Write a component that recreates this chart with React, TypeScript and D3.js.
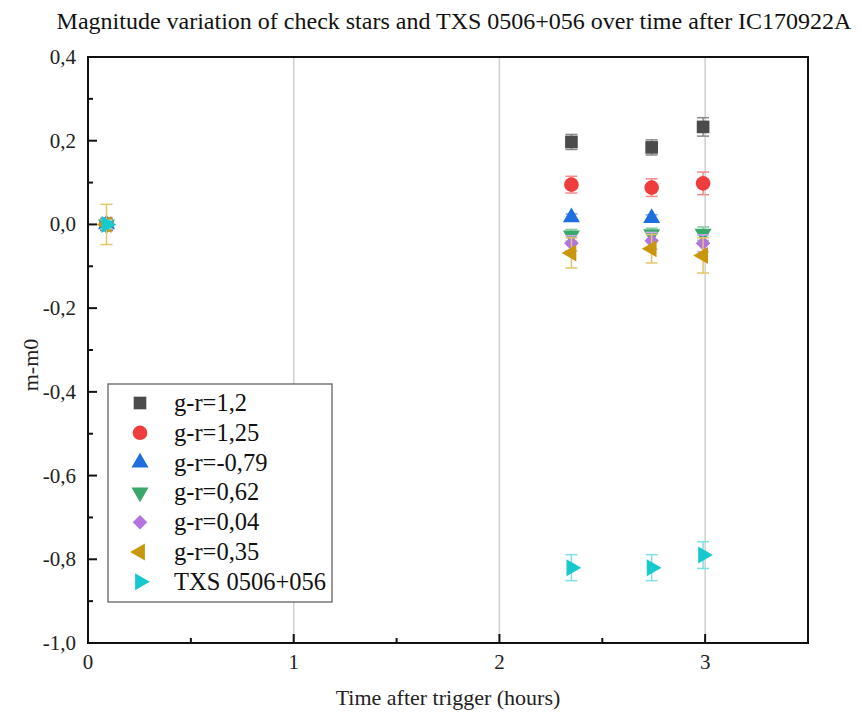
import React from 'react';
import * as d3 from 'd3';

const title = 'Magnitude variation of check stars and TXS 0506+056 over time after IC170922A';
const xLabel = 'Time after trigger (hours)';
const yLabel = 'm-m0';

const xTicks = [0, 1, 2, 3];
const xMinor = [0.5, 1.5, 2.5];
const yTicks = [0.4, 0.2, 0, -0.2, -0.4, -0.6, -0.8, -1.0];
const yMinor = [0.3, 0.1, -0.1, -0.3, -0.5, -0.7, -0.9];
const gridX = [1, 2, 3];

const names = ['g-r=1,2', 'g-r=1,25', 'g-r=-0,79', 'g-r=0,62', 'g-r=0,04', 'g-r=0,35', 'TXS 0506+056'];
const colors = ['#4b4b4b', '#ef3d3d', '#1e6ee0', '#39a86a', '#b275df', '#c9960c', '#17c9cf'];
const errColors = ['#8a8a8a', '#f58a8a', '#7aa8ee', '#86cda3', '#cfa8ee', '#e4c46a', '#7fe0e4'];
const shapes = ['square', 'circle', 'up', 'down', 'diamond', 'left', 'right'];

const times = [0.09, 2.35, 2.74, 2.99];
const timesBlue = [0.09, 2.35, 2.74];

const magSq = [0, 0.197, 0.184, 0.233];
const errSq = [0.015, 0.018, 0.018, 0.022];
const magCirc = [0, 0.095, 0.088, 0.098];
const errCirc = [0.012, 0.02, 0.021, 0.027];
const magUp = [0, 0.017, 0.015];
const errUp = [0.01, 0.008, 0.008];
const magDown = [0, -0.026, -0.023, -0.022];
const errDown = [0.01, 0.014, 0.014, 0.016];
const magDia = [0, -0.045, -0.039, -0.045];
const errDia = [0.012, 0.018, 0.02, 0.02];
const magLeft = [0, -0.068, -0.058, -0.074];
const errLeft = [0.048, 0.036, 0.034, 0.042];
const magTxs = [0, -0.82, -0.82, -0.79];
const errTxs = [0.01, 0.031, 0.031, 0.032];

const seriesT = [times, times, timesBlue, times, times, times, times];
const seriesM = [magSq, magCirc, magUp, magDown, magDia, magLeft, magTxs];
const seriesE = [errSq, errCirc, errUp, errDown, errDia, errLeft, errTxs];

const W = 859, H = 712;
const L = 88, R = 808, T = 57, B = 643;
const font = '"Liberation Serif", "Times New Roman", serif';

const x = d3.scaleLinear().domain([0, 3.5]).range([L, R]);
const y = d3.scaleLinear().domain([-1.0, 0.4]).range([B, T]);

const fmt = (v: number) => (v === 0 ? '0,0' : d3.format('.1f')(v).replace('.', ',').replace('−', '-'));

function marker(shape: string, cx: number, cy: number, color: string, key?: string) {
  const tri = d3.symbol().type(d3.symbolTriangle).size(125)() as string;
  switch (shape) {
    case 'square':
      return <path key={key} d={d3.symbol().type(d3.symbolSquare).size(160)() as string} transform={`translate(${cx},${cy})`} fill={color} />;
    case 'circle':
      return <circle key={key} cx={cx} cy={cy} r={7.3} fill={color} />;
    case 'up':
      return <path key={key} d={tri} transform={`translate(${cx},${cy})`} fill={color} />;
    case 'down':
      return <path key={key} d={tri} transform={`translate(${cx},${cy}) rotate(180)`} fill={color} />;
    case 'left':
      return <path key={key} d={tri} transform={`translate(${cx},${cy}) rotate(-90)`} fill={color} />;
    case 'right':
      return <path key={key} d={tri} transform={`translate(${cx},${cy}) rotate(90)`} fill={color} />;
    default:
      return <path key={key} d={d3.symbol().type(d3.symbolSquare).size(105)() as string} transform={`translate(${cx},${cy}) rotate(45)`} fill={color} />;
  }
}

export default function App() {
  return (
    <svg width={W} height={H} style={{ position: 'absolute', left: 0, top: 0, background: '#fff' }} fontFamily={font}>
      <text x={454} y={29} textAnchor="middle" fontSize={24} fill="#111">{title}</text>

      {gridX.map(g => (
        <line key={'g' + g} x1={x(g)} x2={x(g)} y1={T} y2={B} stroke="#cfcfcf" strokeWidth={1.5} />
      ))}

      {/* ticks, pointing inward */}
      {xTicks.map(t => (
        <g key={'xt' + t}>
          <line x1={x(t)} x2={x(t)} y1={B} y2={B - 9} stroke="#111" strokeWidth={2} />
          <text x={x(t)} y={669} textAnchor="middle" fontSize={21} fill="#222">{t}</text>
        </g>
      ))}
      {xMinor.map(t => (
        <line key={'xm' + t} x1={x(t)} x2={x(t)} y1={B} y2={B - 5} stroke="#111" strokeWidth={2} />
      ))}
      {yTicks.map(t => (
        <g key={'yt' + t}>
          <line x1={L} x2={L + 9} y1={y(t)} y2={y(t)} stroke="#111" strokeWidth={2} />
          <text x={76} y={y(t) + 7} textAnchor="end" fontSize={21} fill="#222">{fmt(t)}</text>
        </g>
      ))}
      {yMinor.map(t => (
        <line key={'ym' + t} x1={L} x2={L + 5} y1={y(t)} y2={y(t)} stroke="#111" strokeWidth={2} />
      ))}

      <rect x={L} y={T} width={R - L} height={B - T} fill="none" stroke="#111" strokeWidth={2} />

      <text x={448} y={705} textAnchor="middle" fontSize={22} fill="#222">{xLabel}</text>
      <text transform={`translate(38,365) rotate(-90)`} textAnchor="middle" fontSize={22} fill="#222">{yLabel}</text>

      {names.map((n, si) => (
        <g key={'s' + si}>
          {seriesT[si].map((t, i) => {
            const cx = x(t);
            const lo = y(seriesM[si][i] - seriesE[si][i]);
            const hi = y(seriesM[si][i] + seriesE[si][i]);
            return (
              <g key={i} stroke={errColors[si]} strokeWidth={1.5}>
                <line x1={cx} x2={cx} y1={lo} y2={hi} />
                <line x1={cx - 6} x2={cx + 6} y1={lo} y2={lo} />
                <line x1={cx - 6} x2={cx + 6} y1={hi} y2={hi} />
              </g>
            );
          })}
          {seriesT[si].map((t, i) => marker(shapes[si], x(t), y(seriesM[si][i]), colors[si], 'm' + i))}
        </g>
      ))}

      <rect x={108} y={384} width={224} height={218} fill="#fff" stroke="#555" strokeWidth={1.2} />
      {names.map((n, i) => (
        <g key={'l' + i}>
          {marker(shapes[i], 140, 403 + i * 29.8, colors[i])}
          <text x={174} y={403 + i * 29.8 + 8} fontSize={24.5} fill="#111">{n}</text>
        </g>
      ))}
    </svg>
  );
}
